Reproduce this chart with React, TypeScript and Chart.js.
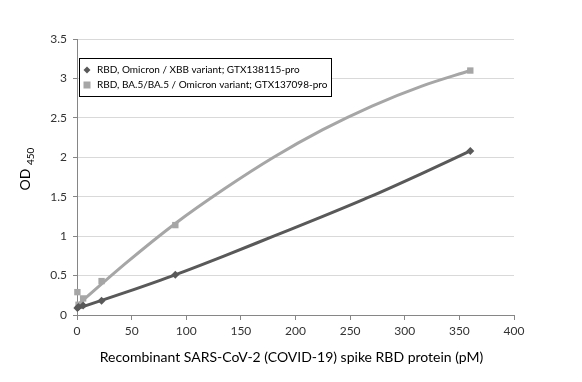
import React, { useEffect, useRef } from "react";
import { Chart, registerables } from "chart.js";

Chart.register(...registerables);

const concentrations = [0.35, 1.4, 5.6, 22.5, 90, 360];
const xbbOD = [0.09, 0.1, 0.12, 0.18, 0.51, 2.08];
const ba5OD = [0.29, 0.13, 0.21, 0.43, 1.14, 3.1];

// trend curves
const xbbTrendX = [0, 45, 90, 135, 180, 225, 270, 315, 360];
const xbbTrendY = [0.08, 0.29, 0.51, 0.75, 1.0, 1.25, 1.51, 1.79, 2.08];
const ba5TrendX = [0, 45, 90, 135, 180, 225, 270, 315, 360];
const ba5TrendY = [0.12, 0.66, 1.16, 1.6, 2.0, 2.35, 2.65, 2.9, 3.1];

const seriesLabels = [
  "RBD, Omicron / XBB variant; GTX138115-pro",
  "RBD, BA.5/BA.5 / Omicron variant; GTX137098-pro",
];
const xTitle = "Recombinant SARS-CoV-2 (COVID-19) spike RBD protein (pM)";
const yTitleMain = "OD";
const yTitleSub = "450";

const DARK = "#595959";
const LIGHT = "#a6a6a6";
const FONT = "Lato, 'Open Sans', sans-serif";

const overlay = {
  id: "overlay",
  afterDraw(chart: any) {
    const { ctx, chartArea } = chart;
    ctx.save();
    // x title
    ctx.fillStyle = "#000";
    ctx.font = `14px ${FONT}`;
    ctx.textAlign = "center";
    ctx.textBaseline = "middle";
    ctx.fillText(xTitle, (chartArea.left + chartArea.right) / 2 - 4, 357);
    // y title with subscript
    ctx.save();
    ctx.translate(30, 169);
    ctx.rotate(-Math.PI / 2);
    ctx.textAlign = "left";
    ctx.textBaseline = "alphabetic";
    ctx.font = `14px ${FONT}`;
    const mainW = ctx.measureText(yTitleMain + " ").width;
    ctx.font = `10px ${FONT}`;
    const subW = ctx.measureText(yTitleSub).width;
    const start = -(mainW + subW) / 2;
    ctx.font = `14px ${FONT}`;
    ctx.fillText(yTitleMain, start, 0);
    ctx.font = `10px ${FONT}`;
    ctx.fillText(yTitleSub, start + mainW, 4);
    ctx.restore();
    // legend
    const bx = chartArea.left + 2;
    const by = 58;
    const bw = 252;
    const bh = 38;
    ctx.fillStyle = "#fff";
    ctx.fillRect(bx, by, bw, bh);
    ctx.strokeStyle = "#000";
    ctx.lineWidth = 1;
    ctx.strokeRect(bx + 0.5, by + 0.5, bw, bh);
    const rows = [by + 12, by + 27];
    // diamond
    ctx.fillStyle = DARK;
    ctx.beginPath();
    const dx = bx + 8, dy = rows[0];
    ctx.moveTo(dx, dy - 3.5);
    ctx.lineTo(dx + 3.5, dy);
    ctx.lineTo(dx, dy + 3.5);
    ctx.lineTo(dx - 3.5, dy);
    ctx.closePath();
    ctx.fill();
    // square
    ctx.fillStyle = LIGHT;
    ctx.fillRect(bx + 4.5, rows[1] - 3.5, 7, 7);
    ctx.fillStyle = "#000";
    ctx.font = `10px ${FONT}`;
    ctx.textAlign = "left";
    ctx.textBaseline = "middle";
    ctx.fillText(seriesLabels[0], bx + 18, rows[0]);
    ctx.fillText(seriesLabels[1], bx + 18, rows[1]);
    ctx.restore();
  },
};

export default function App() {
  const ref = useRef<HTMLCanvasElement>(null);
  useEffect(() => {
    document.body.style.margin = "0";
    const chart = new Chart(ref.current!, {
      type: "scatter",
      data: {
        datasets: [
          {
            label: seriesLabels[0],
            data: concentrations.map((x, i) => ({ x, y: xbbOD[i] })),
            showLine: false,
            pointStyle: "rectRot",
            pointRadius: 4,
            backgroundColor: DARK,
            borderColor: DARK,
            borderWidth: 0,
            clip: false,
            order: 0,
          },
          {
            label: seriesLabels[1],
            data: concentrations.map((x, i) => ({ x, y: ba5OD[i] })),
            showLine: false,
            pointStyle: "rect",
            pointRadius: 4.5,
            backgroundColor: LIGHT,
            borderColor: LIGHT,
            borderWidth: 0,
            clip: false,
            order: 0,
          },
          {
            label: "xbb trend",
            data: xbbTrendX.map((x, i) => ({ x, y: xbbTrendY[i] })),
            showLine: true,
            pointRadius: 0,
            borderColor: DARK,
            borderWidth: 3,
            cubicInterpolationMode: "monotone",
            order: 1,
          },
          {
            label: "ba5 trend",
            data: ba5TrendX.map((x, i) => ({ x, y: ba5TrendY[i] })),
            showLine: true,
            pointRadius: 0,
            borderColor: LIGHT,
            borderWidth: 3,
            cubicInterpolationMode: "monotone",
            order: 1,
          },
        ],
      },
      options: {
        animation: false,
        responsive: false,
        layout: { padding: { top: 39, right: 68, left: 0, bottom: 0 } },
        plugins: { legend: { display: false }, tooltip: { enabled: false } },
        scales: {
          x: {
            type: "linear",
            min: 0,
            max: 400,
            ticks: { stepSize: 50, color: "#333", font: { family: FONT, size: 12 }, padding: 4 },
            grid: { drawOnChartArea: false, drawTicks: true, tickLength: 5, color: "#868686" },
            border: { color: "#868686" },
            afterFit: (s: any) => { s.height = 67; },
          },
          y: {
            min: 0,
            max: 3.5,
            ticks: {
              stepSize: 0.5,
              color: "#333",
              font: { family: FONT, size: 12 },
              padding: 6,
              callback: (v: any) => String(Number(v)),
            },
            grid: { color: "#d9d9d9", tickLength: 4, tickColor: "#868686" },
            border: { color: "#868686" },
            afterFit: (s: any) => { s.width = 77; },
          },
        },
      },
      plugins: [overlay],
    });
    return () => chart.destroy();
  }, []);
  return <canvas ref={ref} width={582} height={382} style={{ display: "block" }} />;
}
